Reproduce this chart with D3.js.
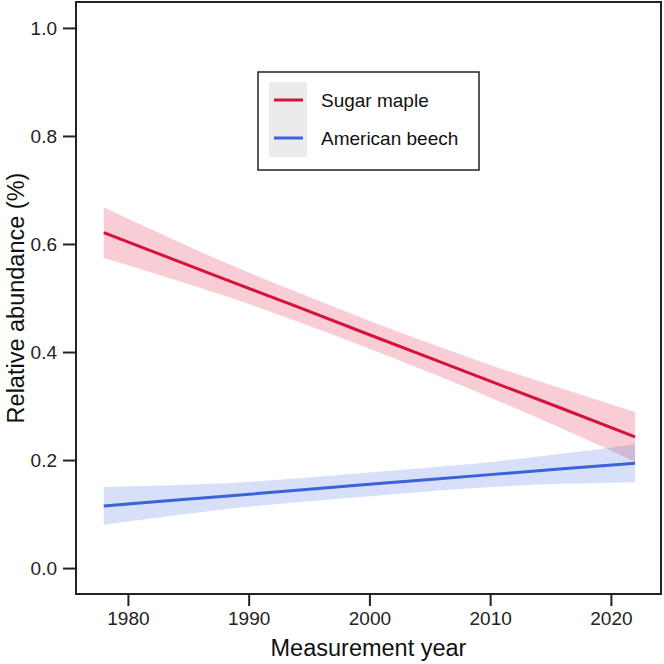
<!DOCTYPE html>
<html>
<head>
<meta charset="utf-8">
<script src="https://cdn.jsdelivr.net/npm/d3@7"></script>
<style>
  body { margin: 0; background: #fff; }
  svg { display: block; font-family: "Liberation Sans", Arial, sans-serif; }
</style>
</head>
<body>
<div id="chart"></div>
<script>
// fitted trend + confidence band
const years = [1978, 1983, 1988, 1994, 2000, 2005, 2010, 2016, 2022];
const mapleFit = [0.621, 0.578, 0.535, 0.484, 0.432, 0.389, 0.346, 0.295, 0.243];
const mapleLow = [0.574, 0.540, 0.504, 0.457, 0.406, 0.362, 0.316, 0.258, 0.197];
const mapleHigh = [0.668, 0.616, 0.566, 0.511, 0.458, 0.416, 0.376, 0.332, 0.289];
const beechFit = [0.115, 0.124, 0.133, 0.144, 0.155, 0.164, 0.173, 0.184, 0.194];
const beechLow = [0.080, 0.095, 0.109, 0.122, 0.133, 0.142, 0.150, 0.156, 0.159];
const beechHigh = [0.150, 0.153, 0.157, 0.166, 0.177, 0.186, 0.196, 0.212, 0.229];
const xTicks = [1980, 1990, 2000, 2010, 2020];
const yTicks = [0, 0.2, 0.4, 0.6, 0.8, 1.0];
const seriesNames = ['Sugar maple', 'American beech'];

const width = 664, height = 664;
const margin = { top: 2, right: 3, bottom: 70, left: 76 };

const series = [
  { name: seriesNames[0], color: '#d5123a', fill: '#dc143c', fit: mapleFit, low: mapleLow, high: mapleHigh },
  { name: seriesNames[1], color: '#3b62d8', fill: '#4169e1', fit: beechFit, low: beechLow, high: beechHigh }
];

const svg = d3.select('#chart').append('svg')
  .attr('width', width)
  .attr('height', height);

const x = d3.scaleLinear()
  .domain([1975.7, 2024.15])
  .range([margin.left, width - margin.right]);
const y = d3.scaleLinear()
  .domain([-0.048, 1.048])
  .range([height - margin.bottom, margin.top]);

const band = d3.area()
  .curve(d3.curveMonotoneX)
  .x((d, i) => x(years[i]))
  .y0(d => y(d[0]))
  .y1(d => y(d[1]));
const line = d3.line()
  .x((d, i) => x(years[i]))
  .y(d => y(d));

// ribbons first, then lines
series.forEach(s => {
  svg.append('path')
    .datum(s.low.map((v, i) => [v, s.high[i]]))
    .attr('fill', s.fill)
    .attr('fill-opacity', 0.21)
    .attr('d', band);
});
series.forEach(s => {
  svg.append('path')
    .datum(s.fit)
    .attr('fill', 'none')
    .attr('stroke', s.color)
    .attr('stroke-width', 3)
    .attr('d', line);
});

// axes
const xAxis = svg.append('g')
  .attr('transform', `translate(0,${height - margin.bottom})`)
  .call(d3.axisBottom(x).tickValues(xTicks).tickFormat(d3.format('d')).tickSize(12).tickPadding(6));
const yAxis = svg.append('g')
  .attr('transform', `translate(${margin.left},0)`)
  .call(d3.axisLeft(y).tickValues(yTicks).tickFormat(d3.format('.1f')).tickSize(13).tickPadding(6));

[xAxis, yAxis].forEach(a => {
  a.select('.domain').remove();
  a.selectAll('line').attr('stroke', '#222').attr('stroke-width', 2);
  a.selectAll('text').attr('fill', '#222').attr('font-size', 19)
    .attr('font-family', '"Liberation Sans", Arial, sans-serif');
});

// panel border
svg.append('rect')
  .attr('x', margin.left)
  .attr('y', margin.top)
  .attr('width', width - margin.left - margin.right)
  .attr('height', height - margin.top - margin.bottom)
  .attr('fill', 'none')
  .attr('stroke', '#222')
  .attr('stroke-width', 2);

svg.append('text')
  .attr('x', (margin.left + width - margin.right) / 2)
  .attr('y', 656)
  .attr('text-anchor', 'middle')
  .attr('font-size', 23.5)
  .attr('fill', '#111')
  .text('Measurement year');

svg.append('text')
  .attr('transform', `translate(24,${(margin.top + height - margin.bottom) / 2}) rotate(-90)`)
  .attr('text-anchor', 'middle')
  .attr('font-size', 23.5)
  .attr('fill', '#111')
  .text('Relative abundance (%)');

// legend
const legend = svg.append('g');
legend.append('rect')
  .attr('x', 258).attr('y', 72)
  .attr('width', 221).attr('height', 98)
  .attr('fill', '#fff')
  .attr('stroke', '#222')
  .attr('stroke-width', 1.5);
legend.append('rect')
  .attr('x', 269).attr('y', 82)
  .attr('width', 38).attr('height', 75)
  .attr('fill', '#ebebeb');
series.forEach((s, i) => {
  const cy = 100 + i * 38;
  legend.append('line')
    .attr('x1', 274).attr('x2', 303)
    .attr('y1', cy).attr('y2', cy)
    .attr('stroke', s.color)
    .attr('stroke-width', 3);
  legend.append('text')
    .attr('x', 321).attr('y', cy + 7)
    .attr('font-size', 19)
    .attr('fill', '#111')
    .text(s.name);
});
</script>
</body>
</html>
